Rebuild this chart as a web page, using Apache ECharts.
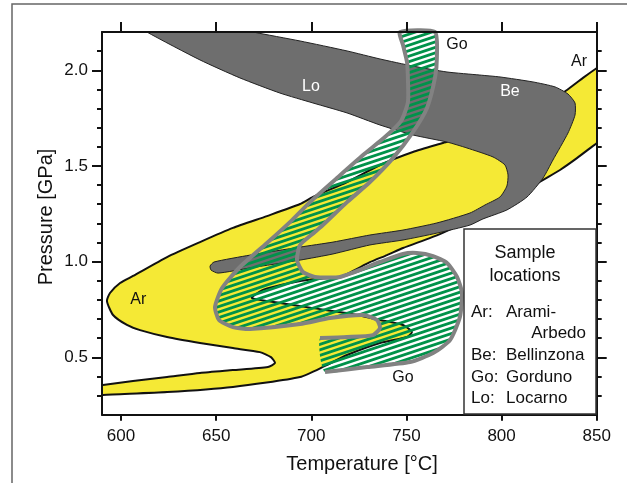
<!DOCTYPE html>
<html><head><meta charset="utf-8">
<script src="https://cdn.jsdelivr.net/npm/echarts@6/dist/echarts.min.js"></script>
<style>html,body{margin:0;padding:0;background:#fff}#c{width:627px;height:483px}</style>
</head><body><div id="c"></div>
<script>
// ---- data ----
const xTickValues = [600, 650, 700, 750, 800, 850];
const yTickValues = [0.5, 1.0, 1.5, 2.0];
const yMinorValues = [0.3,0.4,0.6,0.7,0.8,0.9,1.1,1.2,1.3,1.4,1.6,1.7,1.8,1.9,2.1];

// Arami-Arbedo (yellow) outline [T degC, P GPa]
const arBoundary = [
 [858.0,2.064],[850.1,2.012],[842.8,1.960],[834.4,1.897],[822.8,1.818],[804.4,1.730],[783.4,1.662],
 [769.2,1.620],[753.4,1.573],[736.1,1.505],[718.8,1.416],[700.9,1.338],[694.1,1.301],[676.7,1.238],
 [658.8,1.176],[641.5,1.102],[624.2,1.024],[606.3,0.925],[599.5,0.888],[594.2,0.836],[592.6,0.794],
 [595.8,0.721],[603.1,0.669],[610.0,0.642],[624.2,0.606],[641.5,0.575],[658.8,0.548],
 [673.0,0.527],[678.8,0.501],[680.9,0.470],[677.2,0.449],[658.8,0.433],[641.5,0.418],[624.2,0.397],
 [606.3,0.376],[590.5,0.355],[586.3,0.350],[586.3,0.298],[590.5,0.303],[624.2,0.318],[658.8,0.345],
 [694.1,0.397],[707.2,0.455],[718.8,0.512],[736.1,0.575],[750.3,0.606],[752.9,0.632],[748.2,0.669],
 [736.1,0.695],[718.8,0.731],[700.9,0.757],[683.5,0.784],[668.8,0.810],[674.6,0.852],[688.8,0.888],
 [701.9,0.909],[715.1,0.920],[730.8,0.997],[739.8,1.034],[748.2,1.071],[767.6,1.144],[788.6,1.244],
 [809.7,1.359],[824.4,1.442],[830.7,1.479],[839.6,1.541],[850.1,1.620],[858.0,1.677]
];
// Bellinzona + Locarno (grey) outline
const beLoBoundary = [
 [604.7,2.263],[641.5,2.263],[669.4,2.200],[694.1,2.153],[718.8,2.101],[736.1,2.059],[753.4,2.022],
 [771.3,1.991],[788.6,1.975],[799.2,1.965],[816.5,1.939],[828.1,1.913],[834.9,1.876],[838.6,1.829],
 [838.6,1.766],[834.9,1.672],[827.0,1.531],[821.8,1.437],[813.4,1.338],[802.8,1.270],[790.2,1.223],
 [783.4,1.191],[766.0,1.149],[748.2,1.113],[730.8,1.087],[711.4,1.040],[694.1,1.008],[667.8,0.967],
 [651.0,0.940],[647.3,0.956],[646.8,0.977],[648.9,0.998],[667.8,1.034],[694.1,1.076],[711.4,1.102],
 [730.8,1.139],[748.2,1.165],[766.0,1.202],[783.4,1.254],[791.3,1.296],[799.2,1.338],[802.8,1.395],
 [803.4,1.453],[801.8,1.505],[795.5,1.547],[781.8,1.594],[771.3,1.625],[753.4,1.662],[736.1,1.714],
 [718.8,1.777],[700.9,1.829],[683.5,1.881],[662.5,1.960],[641.5,2.054],[613.6,2.200]
];
// Gorduno (hatched) outline; the closing segment (last -> first) is left unstroked
const goBoundary = [
 [707.2,0.423],[729.3,0.449],[751.9,0.475],[764.0,0.522],[772.9,0.590],[778.1,0.710],[779.2,0.836],
 [776.6,0.920],[771.3,0.993],[764.0,1.029],[755.5,1.045],[748.2,1.040],[736.1,0.998],[715.1,0.920],
 [701.9,0.920],[695.6,0.946],[692.5,1.008],[694.1,1.087],[701.9,1.155],[706.1,1.191],[718.8,1.311],
 [730.8,1.416],[742.9,1.541],[753.4,1.677],[760.8,1.803],[765.0,1.960],[766.0,2.064],[765.0,2.200],
 [746.6,2.200],[748.2,2.132],[750.3,2.043],[750.8,1.949],[750.8,1.834],[747.2,1.735],[738.7,1.651],
 [727.2,1.557],[713.5,1.437],[699.3,1.311],[689.9,1.217],[676.7,1.097],[662.5,0.972],[653.1,0.862],
 [649.4,0.763],[651.5,0.695],[658.8,0.658],[667.8,0.648],[694.1,0.674],[709.8,0.705],[727.2,0.721],
 [734.5,0.695],[736.1,0.653],[732.4,0.616],[718.8,0.606],[704.6,0.601]
];

const regionLabels = ['Lo','Be','Ar','Ar','Go','Go'];
const regionLabelT = [699.8, 804.4, 840.7, 609.1, 776.6, 748.2];
const regionLabelP = [1.915, 1.889, 2.046, 0.799, 2.132, 0.392];
const regionLabelWhite = [true, true, false, false, false, false];

const legendTitle = ['Sample', 'locations'];
const legendCodes = ['Ar:', 'Be:', 'Go:', 'Lo:'];
const legendNames = ['Arami-', 'Bellinzona', 'Gorduno', 'Locarno'];
const legendContinuation = 'Arbedo';

const xTitle = 'Temperature [\u00B0C]';
const yTitle = 'Pressure [GPa]';

// ---- styling ----
const FONT = '"Liberation Sans", Arial, Helvetica, sans-serif';
const INK = '#111';

function makeHatch() {
  const W = 33, H = 11;
  const c = document.createElement('canvas');
  c.width = W; c.height = H;
  const g = c.getContext('2d');
  g.strokeStyle = '#00924a';
  g.lineWidth = 2.8;
  for (let k = -6; k <= 8; k++) {
    const off = k * 5.5;
    g.beginPath();
    g.moveTo(-10, H + 10 * H / W + off);
    g.lineTo(W + 10, H - (W + 10) * H / W + off);
    g.stroke();
  }
  return c;
}
const hatch = makeHatch();

function shapeSeries(points, buildStyle, kind, clip) {
  return {
    type: 'custom', coordinateSystem: 'cartesian2d', clip: clip, silent: true,
    data: points, encode: {x: 0, y: 1},
    renderItem: function (params, api) {
      if (params.dataIndex !== 0) return null;
      const pts = points.map(p => api.coord(p));
      return {type: kind, shape: {points: pts, smooth: 0.2}, style: buildStyle()};
    }
  };
}

const chart = echarts.init(document.getElementById('c'), null, {renderer: 'canvas'});

const labelData = regionLabels.map((t, i) => [regionLabelT[i], regionLabelP[i], i]);

const axisLineStyle = {color: INK, width: 2};
const option = {
  animation: false,
  backgroundColor: '#fff',
  grid: {left: 102, top: 32, right: 30.3, bottom: 68.3, containLabel: false},
  xAxis: [
    {type: 'value', position: 'bottom', min: 590, max: 850, z: 10,
     axisLine: {show: true, onZero: false, lineStyle: axisLineStyle},
     axisTick: {show: true, customValues: xTickValues, length: 6, lineStyle: axisLineStyle},
     axisLabel: {show: true, customValues: xTickValues, fontSize: 17, color: INK, fontFamily: FONT, margin: 13},
     splitLine: {show: false}},
    {type: 'value', position: 'top', min: 590, max: 850, z: 10,
     axisLine: {show: true, onZero: false, lineStyle: axisLineStyle},
     axisTick: {show: true, customValues: xTickValues, length: 10, lineStyle: axisLineStyle},
     axisLabel: {show: false}, splitLine: {show: false}}
  ],
  yAxis: [
    {type: 'value', position: 'left', min: 0.2, max: 2.2, z: 10,
     axisLine: {show: true, onZero: false, lineStyle: axisLineStyle},
     axisTick: {show: true, customValues: yTickValues, length: 10, lineStyle: axisLineStyle},
     axisLabel: {show: true, customValues: yTickValues, fontSize: 17, color: INK, fontFamily: FONT, margin: 14,
                 formatter: v => v.toFixed(1)},
     splitLine: {show: false}},
    {type: 'value', position: 'left', min: 0.2, max: 2.2, z: 10,
     axisLine: {show: false},
     axisTick: {show: true, customValues: yMinorValues, length: 5, lineStyle: axisLineStyle},
     axisLabel: {show: false}, splitLine: {show: false}},
    {type: 'value', position: 'right', min: 0.2, max: 2.2, z: 10,
     axisLine: {show: true, onZero: false, lineStyle: axisLineStyle},
     axisTick: {show: true, customValues: yTickValues, length: 10, lineStyle: axisLineStyle},
     axisLabel: {show: false}, splitLine: {show: false}},
    {type: 'value', position: 'right', min: 0.2, max: 2.2, z: 10,
     axisLine: {show: false},
     axisTick: {show: true, customValues: yMinorValues, length: 5, lineStyle: axisLineStyle},
     axisLabel: {show: false}, splitLine: {show: false}}
  ],
  series: [
    shapeSeries(arBoundary, () => ({fill: '#f5e935', stroke: '#111', lineWidth: 2, lineJoin: 'round'}), 'polygon', true),
    shapeSeries(beLoBoundary, () => ({fill: '#6e6e6e', stroke: '#222', lineWidth: 1, lineJoin: 'round'}), 'polygon', true),
    shapeSeries(goBoundary, () => ({fill: {image: hatch, repeat: 'repeat'}, stroke: null}), 'polygon', false),
    shapeSeries(goBoundary, () => ({fill: null, stroke: '#828282', lineWidth: 4, lineJoin: 'round', lineCap: 'butt'}), 'polyline', false),
    {
      type: 'custom', coordinateSystem: 'cartesian2d', silent: true, z: 5,
      data: labelData, encode: {x: 0, y: 1},
      renderItem: function (params, api) {
        const i = api.value(2);
        const p = api.coord([api.value(0), api.value(1)]);
        return {type: 'text', x: p[0], y: p[1],
          style: {text: regionLabels[i], fill: regionLabelWhite[i] ? '#fff' : INK,
                  font: '16px ' + FONT, textAlign: 'center', textVerticalAlign: 'middle'}};
      }
    }
  ],
  graphic: [
    {type: 'rect', z: 0, silent: true, shape: {x: 12, y: 4, width: 660, height: 520},
     style: {fill: 'none', stroke: '#666', lineWidth: 1.5}},
    {type: 'rect', z: 100, silent: true, shape: {x: 464, y: 229, width: 132, height: 185},
     style: {fill: '#fff', stroke: '#333', lineWidth: 1.5}},
    {type: 'text', z: 101, x: 525, y: 253, style: {text: legendTitle[0], font: '18px ' + FONT, fill: INK, textAlign: 'center', textVerticalAlign: 'middle'}},
    {type: 'text', z: 101, x: 525, y: 276, style: {text: legendTitle[1], font: '18px ' + FONT, fill: INK, textAlign: 'center', textVerticalAlign: 'middle'}},
    ...legendCodes.map((c, i) => ({type: 'text', z: 101, x: 471, y: [312, 355, 377, 398][i],
      style: {text: c, font: '17px ' + FONT, fill: INK, textAlign: 'left', textVerticalAlign: 'middle'}})),
    ...legendNames.map((n, i) => ({type: 'text', z: 101, x: 506, y: [312, 355, 377, 398][i],
      style: {text: n, font: '17px ' + FONT, fill: INK, textAlign: 'left', textVerticalAlign: 'middle'}})),
    {type: 'text', z: 101, x: 586, y: 333, style: {text: legendContinuation, font: '17px ' + FONT, fill: INK, textAlign: 'right', textVerticalAlign: 'middle'}},
    {type: 'text', z: 101, x: 362, y: 464, style: {text: xTitle, font: '20px ' + FONT, fill: INK, textAlign: 'center', textVerticalAlign: 'middle'}},
    {type: 'text', z: 101, x: 46, y: 217, rotation: Math.PI / 2, style: {text: yTitle, font: '20px ' + FONT, fill: INK, textAlign: 'center', textVerticalAlign: 'middle'}}
  ]
};
chart.setOption(option);
</script>
</body></html>
